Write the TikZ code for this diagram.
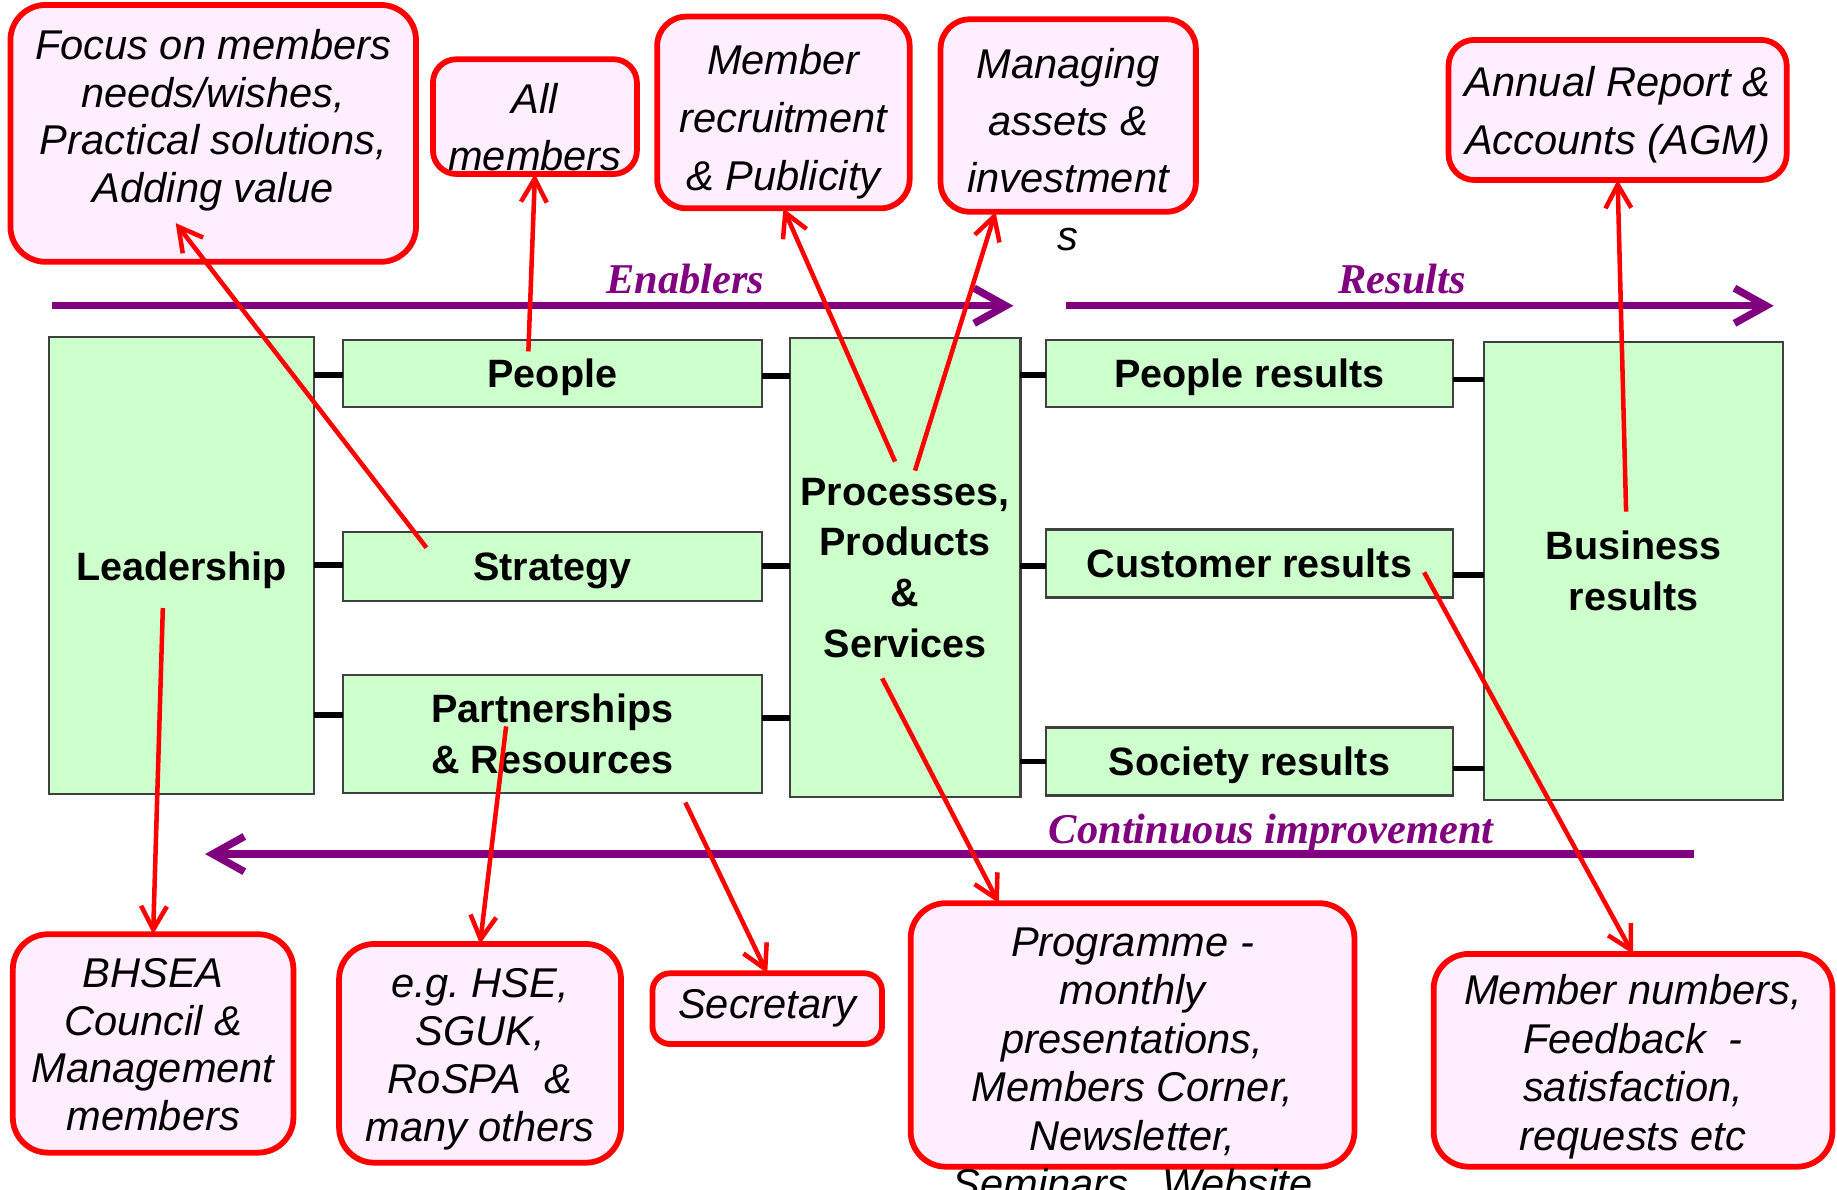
\documentclass[tikz,border=0pt]{standalone}
\usepackage{fontspec}
\setmainfont{Liberation Sans}
\newfontfamily\serifbi{Liberation Serif}
\usepackage{tikz}
\definecolor{leaf}{HTML}{CCFFCC}
\definecolor{blush}{HTML}{FFEEFF}
\definecolor{plum}{HTML}{800080}
\usetikzlibrary{arrows.meta, positioning}
\newcommand{\calltxt}[2]{\fontsize{10.1}{#1}\selectfont\itshape\begin{tabular}[t]{@{}c@{}}#2\end{tabular}}

\begin{document}
\begin{tikzpicture}
[x=0.01cm, y=-0.01cm,
 pointer/.style={draw=red, line width=1.1pt, arrows={-Straight Barb[length=0.2cm,width=0.22cm]}},
 flow/.style={draw=plum, line width=1.8pt, arrows={-Straight Barb[length=0.27cm,width=0.3cm]}},
 link/.style={line width=1.4pt},
 crit/.style={shape=rectangle, draw=black!75, line width=0.5pt, fill=leaf, inner sep=0pt, outer sep=0pt,
   align=center, font=\fontsize{9.6}{12.3}\selectfont\bfseries},
 note/.style={shape=rectangle, rounded corners=0.3cm, draw=red, line width=1.4pt, fill=blush, inner sep=0pt, outer sep=0pt},
 flowlbl/.style={text=plum, anchor=base, font=\serifbi\fontsize{10.3}{12}\selectfont\bfseries\itshape}]
\useasboundingbox (0,0) rectangle (1568,1015);
% model boxes
\node[crit, text depth=0pt, minimum width=2.26cm, minimum height=3.90cm] (lead) at (155,483) {Leadership};
\node[crit, text depth=0pt, minimum width=3.57cm, minimum height=0.57cm] (peop) at (471.5,318.5) {People};
\node[crit, text depth=0pt, minimum width=3.57cm, minimum height=0.59cm] (strat) at (471.5,483.5) {Strategy};
\node[crit, minimum width=3.57cm, minimum height=1.01cm] (part) at (471.5,626.5) {Partnerships\\\& Resources};
\node[crit, minimum width=1.97cm, minimum height=3.91cm] (proc) at (772.5,484.5) {Processes,\\Products\\\&\\Services};
\node[crit, text depth=0pt, minimum width=3.47cm, minimum height=0.57cm] (pres) at (1066.5,318.5) {People results};
\node[crit, text depth=0pt, minimum width=3.47cm, minimum height=0.58cm] (cres) at (1066.5,481) {Customer results};
\node[crit, text depth=0pt, minimum width=3.47cm, minimum height=0.58cm] (sres) at (1066.5,650) {Society results};
\node[crit, minimum width=2.55cm, minimum height=3.91cm] (bres) at (1394.5,487.5) {Business\\results};
\foreach \a/\b/\h in {lead/peop/320, lead/strat/482, lead/part/610, peop/proc/321, strat/proc/483,
  part/proc/613, proc/pres/320, proc/cres/483, proc/sres/650, pres/bres/324, cres/bres/491, sres/bres/656}
  \draw[link] (\a.east |- 0,\h) -- (\b.west |- 0,\h);
% flows
\coordinate (enS) at (44,261);
\coordinate (enE) at (865,261);
\draw[flow] (enS) -- (enE);
\node[flowlbl] (enL) at (585,250.4) {Enablers};
\coordinate (reS) at (910,261);
\coordinate (reE) at (1514,261);
\draw[flow] (reS) -- (reE);
\node[flowlbl] (reL) at (1197,250.4) {Results};
\coordinate (ciS) at (1446,729);
\coordinate (ciE) at (175,729);
\draw[flow] (ciS) -- (ciE);
\node[flowlbl] (ciL) at (1085,719.8) {Continuous improvement};
% notes
\node[note, minimum width=3.46cm, text height=0.463cm, text depth=1.728cm] (focus) at (182,113.85)
  {\calltxt{11.6pt}{Focus on members\\needs/wishes,\\Practical solutions,\\Adding value}};
\node[note, rounded corners=0.2cm, minimum width=1.74cm, text height=0.461cm, text depth=0.518cm] (allm) at (456.6,99.55)
  {\calltxt{13.8pt}{All\\members}};
\node[note, rounded corners=0.25cm, minimum width=2.154cm, text height=0.49cm, text depth=1.146cm] (recr) at (668.7,96)
  {\calltxt{14.1pt}{Member\\recruitment\\\& Publicity}};
\node[note, rounded corners=0.25cm, minimum width=2.178cm, text height=0.504cm, text depth=1.138cm] (manage) at (911.8,98.6)
  {\calltxt{13.9pt}{Managing\\assets \&\\investment\\s}};
\node[note, rounded corners=0.22cm, minimum width=2.885cm, text height=0.484cm, text depth=0.711cm] (annual) at (1380.75,93.85)
  {\calltxt{14pt}{Annual Report \&\\Accounts (AGM)}};
\node[note, minimum width=2.394cm, text height=0.452cm, text depth=1.411cm] (bhsea) at (130.7,890.65)
  {\calltxt{11.6pt}{BHSEA\\Council \&\\Management\\members}};
\node[note, minimum width=2.405cm, text height=0.455cm, text depth=1.411cm] (eg) at (409.75,899.1)
  {\calltxt{11.7pt}{e.g.\ HSE,\\SGUK,\\RoSPA\ \ \&\\many others}};
\node[note, rounded corners=0.15cm, minimum width=1.958cm, text height=0.384cm, text depth=0.219cm] (sec) at (654.9,860.95)
  {\calltxt{11.6pt}{Secretary}};
\node[note, minimum width=3.786cm, text height=0.455cm, text depth=1.793cm] (prog) at (966.7,883.4)
  {\calltxt{11.75pt}{Programme -\\monthly\\presentations,\\Members Corner,\\Newsletter,\\Seminars , Website}};
\node[note, minimum width=3.402cm, text height=0.435cm, text depth=1.38cm] (memnum) at (1393.9,905.05)
  {\calltxt{11.75pt}{Member numbers,\\Feedback\ \ -\\satisfaction,\\requests etc}};
% pointers
\coordinate (p1) at (364,467.5);
\coordinate (p2) at (451,300);
\coordinate (p3) at (764,394);
\coordinate (p4) at (781,401.7);
\coordinate (p5) at (1388,436.7);
\coordinate (p6) at (139,519);
\coordinate (p7) at (432,620);
\coordinate (p8) at (585,685);
\coordinate (p9) at (753,579);
\coordinate (p10) at (1215.6,488.5);
\draw[pointer] (p1) -- ([xshift=-0.32cm,yshift=0.33cm]focus.south);
\draw[pointer] (p2) -- (allm.south);
\draw[pointer] (p3) -- (recr.south);
\draw[pointer] (p4) -- ([xshift=-0.62cm]manage.south);
\draw[pointer] (p5) -- (annual.south);
\draw[pointer] (p6) -- (bhsea.north);
\draw[pointer] (p7) -- (eg.north);
\draw[pointer] (p8) -- (sec.north);
\draw[pointer] (p9) -- ([xshift=-1.14cm]prog.north);
\draw[pointer] (p10) -- (memnum.north);
\end{tikzpicture}
\end{document}
